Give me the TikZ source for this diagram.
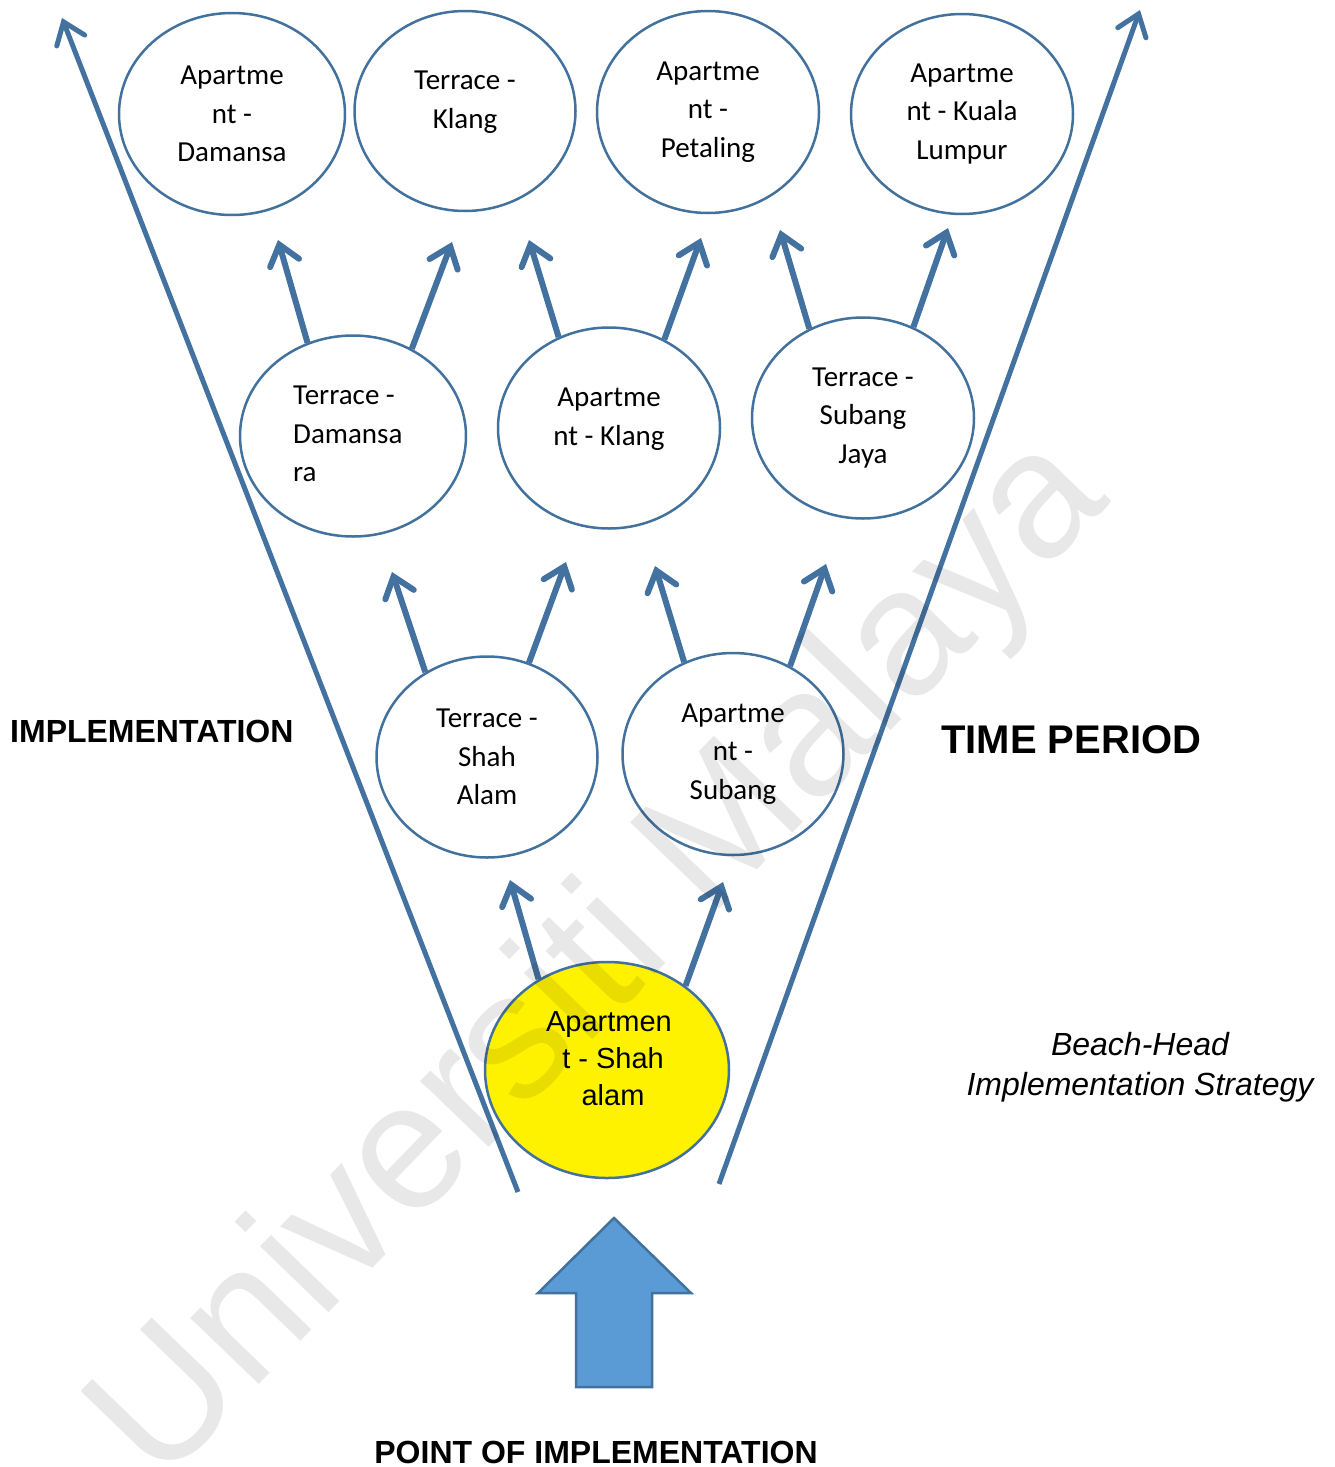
\documentclass[tikz,border=0pt]{standalone}
\usepackage{fontspec}
\setmainfont{Liberation Sans}
\newfontfamily\calibrifont{Carlito}
\usepackage{tikz}
\usetikzlibrary{arrows.meta}
\usetikzlibrary{shapes.geometric}
\definecolor{nodeblue}{RGB}{65,113,156}
\definecolor{lineblue}{RGB}{68,114,160}
\definecolor{fillblue}{RGB}{91,155,213}
\begin{document}
\begin{tikzpicture}[
    x=1pt, y=-1pt,
    place/.style={ellipse, draw=nodeblue, line width=2.5pt, inner sep=0pt, align=center,
        font=\calibrifont\fontsize{29}{38.5}\selectfont},
    place text/.style={inner sep=0pt, align=center, font=\calibrifont\fontsize{29}{38.5}\selectfont},
    start place/.style={place, fill=yellow},
    flow/.style={-{Straight Barb[length=19pt, width=30pt, line cap=round]}, draw=lineblue, line width=6pt},
    axis/.style={-{Straight Barb[length=20pt, width=30pt, line cap=round]}, draw=lineblue, line width=5pt},
    big label/.style={inner sep=0pt, font=\bfseries\fontsize{32}{38}\selectfont},
    every node/.style={color=black}
    ]
    \useasboundingbox (0,0) rectangle (1334,1467);

    % define tips
    \coordinate (aptShahL) at (510,880);
    \coordinate (aptShahR) at (723,882);
    \coordinate (terShahL) at (392,572);
    \coordinate (terShahR) at (566,562);
    \coordinate (aptSubL) at (655,566);
    \coordinate (aptSubR) at (826,564);
    \coordinate (terDamL) at (278,240);
    \coordinate (terDamR) at (452,242);
    \coordinate (aptKlangL) at (529,240);
    \coordinate (aptKlangR) at (701,238);
    \coordinate (terSubJL) at (780,230);
    \coordinate (terSubJR) at (948,228);
    % define axis ends
    \coordinate (leftFoot) at (518,1192);
    \coordinate (leftTop) at (62,18);
    \coordinate (rightFoot) at (719,1184);
    \coordinate (rightTop) at (1140,10);

    % places, top row
    \node[place, minimum width=226, minimum height=202] (aptDam) at (232,114) {Apartme\\nt -\\Damansa};
    \node[place, minimum width=221, minimum height=200] (terKlang) at (465,111) {};
    \node[place text] (terKlangText) at (465,102) {Terrace -\\Klang};
    \node[place, minimum width=222, minimum height=202] (aptPet) at (708,112) {Apartme\\nt -\\Petaling};
    \node[place, minimum width=222, minimum height=200] (aptKL) at (962,114) {Apartme\\nt - Kuala\\Lumpur};
    % second row
    \node[place, minimum width=226, minimum height=201] (terDam) at (353,436) {};
    \node[place text, align=left, anchor=west] (terDamText) at (293,434) {Terrace -\\Damansa\\ra};
    \node[place, minimum width=222, minimum height=201] (aptKlang) at (609,428) {};
    \node[place text] (aptKlangText) at (609,419) {Apartme\\nt - Klang};
    \node[place, minimum width=222, minimum height=201] (terSubJ) at (863,418) {Terrace -\\Subang\\Jaya};
    % third row
    \node[place, minimum width=221, minimum height=201] (terShah) at (487,757) {Terrace -\\Shah\\Alam};
    \node[place, minimum width=221, minimum height=202] (aptSub) at (733,754) {Apartme\\nt -\\Subang};
    % starting point
    \node[start place, minimum width=244, minimum height=216] (aptShah) at (607,1070) {};
    \node[inner sep=0pt, align=center, font=\fontsize{29}{37}\selectfont] (aptShahText) at (609,1059) {Apartmen\\ \ t - Shah\\ \ alam};

    % growth arrows
    \foreach \src/\ang/\tip in {aptShah/127/aptShahL, aptShah/47/aptShahR,
        terShah/126/terShahL, terShah/66/terShahR, aptSub/118/aptSubL, aptSub/57/aptSubR,
        terDam/116/terDamL, terDam/56/terDamR, aptKlang/119/aptKlangL, aptKlang/58/aptKlangR,
        terSubJ/121/terSubJL, terSubJ/61/terSubJR}
        \draw[flow] (\src.\ang) -- (\tip);

    % funnel
    \draw[axis] (leftFoot) -- (leftTop);
    \draw[axis] (rightFoot) -- (rightTop);

    % entry arrow
    \draw[draw=nodeblue, fill=fillblue, line width=2.5pt] (576,1387) -- (576,1293) -- (538,1293) -- (614,1218)
        -- (691,1293) -- (652,1293) -- (652,1387) -- cycle;

    % labels
    \node[big label, anchor=west] (impl) at (10,731) {IMPLEMENTATION};
    \node[big label, anchor=west, font=\bfseries\fontsize{40}{46}\selectfont] (period) at (941,740) {TIME PERIOD};
    \node[big label] (point) at (596,1452) {POINT OF IMPLEMENTATION};
    \node[inner sep=0pt, align=center, font=\itshape\fontsize{32}{40}\selectfont] (caption) at (1140,1067) {Beach-Head\\Implementation Strategy};

    % watermark
    \node[rotate=46, text opacity=0.09, font=\fontsize{180}{180}\selectfont] (mark) at (603,962) {Universiti Malaya};
\end{tikzpicture}
\end{document}
